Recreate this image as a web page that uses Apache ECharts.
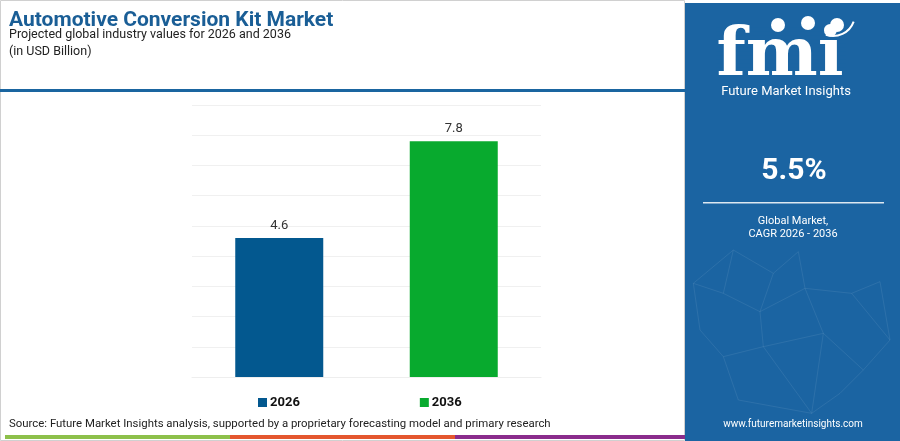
<!DOCTYPE html>
<html>
<head>
<meta charset="utf-8">
<script src="https://cdn.jsdelivr.net/npm/echarts@6/dist/echarts.min.js"></script>
<style>
html,body{margin:0;padding:0;background:#fff;}
#c{width:900px;height:441px;}
</style>
</head>
<body>
<div id="c"></div>
<script>
const categories = ['2026', '2036'];
const seriesNames = ['2026', '2036'];
const values2026 = [4.6, '-'];
const values2036 = ['-', 7.8];
const cagrText = '5.5%';

const chart = echarts.init(document.getElementById('c'), null, {renderer: 'canvas'});

const panelBlue = '#1b64a2';
const netNodes = [[160,750],[355,755],[280,820],[40,850],[130,880],[240,935],[375,865],[515,880],[600,845],[430,1000],[250,1040],[550,1110],[130,1070],[175,1200],[395,1240],[630,1020],[60,990],[480,1180]]
  .map(p => [680 + p[0]/3, p[1]/3]);
const netEdges = [[0,2],[0,4],[1,2],[1,6],[2,5],[3,4],[4,5],[5,6],[6,7],[7,8],[5,10],[10,9],[9,6],[9,11],[10,12],[12,13],[13,14],[14,9],[11,15],[15,8],[3,16],[16,12],[11,17],[17,14],[0,3],[7,15],[10,14]];
const netGraphics = netEdges.map(e => ({
  type: 'line', silent: true,
  shape: {x1: netNodes[e[0]][0], y1: netNodes[e[0]][1], x2: netNodes[e[1]][0], y2: netNodes[e[1]][1]},
  style: {stroke: 'rgba(255,255,255,0.08)', lineWidth: 1}
}));
const stripeGraphics = [];
for (let y = 26; y < 77; y += 4) {
  stripeGraphics.push({type: 'rect', silent: true, shape: {x: 716, y: y, width: 130, height: 1.3}, style: {fill: panelBlue}});
}

chart.setOption({
  animation: false,
  grid: {left: 192, right: 359, top: 105, bottom: 64},
  xAxis: {
    type: 'category', data: categories,
    axisLine: {show: true, lineStyle: {color: '#eeeeee'}},
    axisTick: {show: false}, axisLabel: {show: false}
  },
  yAxis: {
    type: 'value', min: 0, max: 9, interval: 1,
    axisLine: {show: false}, axisTick: {show: false}, axisLabel: {show: false},
    splitLine: {lineStyle: {color: '#f0f0f0', width: 1}}
  },
  legend: {
    data: seriesNames, left: 253, top: 391, itemWidth: 9, itemHeight: 9, itemGap: 120,
    icon: 'rect',
    textStyle: {fontFamily: 'Roboto', fontWeight: 'bold', fontSize: 13, color: '#111', padding: [0,0,0,-2]}
  },
  series: [
    {name: seriesNames[0], type: 'bar', data: values2026, barWidth: 88, barGap: '-100%',
     itemStyle: {color: '#03588f'},
     label: {show: true, position: 'top', distance: 6, fontFamily: 'Roboto', fontSize: 13, color: '#333'}},
    {name: seriesNames[1], type: 'bar', data: values2036, barWidth: 88, barGap: '-100%',
     itemStyle: {color: '#08aa2e'},
     label: {show: true, position: 'top', distance: 6, fontFamily: 'Roboto', fontSize: 13, color: '#333'}}
  ],
  graphic: [
    {type: 'rect', silent: true, z: -10, shape: {x: 0.5, y: 0.5, width: 684, height: 440}, style: {fill: 'none', stroke: '#d0d0d0', lineWidth: 1}},
    {type: 'text', left: 9, top: 10, style: {text: 'Automotive Conversion Kit Market', fontFamily: 'Roboto', fontWeight: 'bold', fontSize: 21, fill: '#1a5e96'}},
    {type: 'text', left: 9, top: 28, style: {text: 'Projected global industry values for 2026 and 2036', fontFamily: 'Roboto', fontSize: 12.5, fill: '#222'}},
    {type: 'text', left: 9, top: 45, style: {text: '(in USD Billion)', fontFamily: 'Roboto', fontSize: 12.5, fill: '#222'}},
    {type: 'rect', silent: true, shape: {x: 0, y: 89, width: 685, height: 3}, style: {fill: '#1a65a0'}},
    {type: 'text', left: 9, top: 419, style: {text: 'Source: Future Market Insights analysis, supported by a proprietary forecasting model and primary research', fontFamily: 'Roboto', fontSize: 11.4, fill: '#222'}},
    {type: 'rect', silent: true, shape: {x: 5, y: 435, width: 225, height: 4}, style: {fill: '#8dc04a'}},
    {type: 'rect', silent: true, shape: {x: 230, y: 435, width: 225, height: 4}, style: {fill: '#e4572e'}},
    {type: 'rect', silent: true, shape: {x: 455, y: 435, width: 230, height: 4}, style: {fill: '#8a2c8c'}},
    {type: 'rect', silent: true, z: 0, shape: {x: 685, y: 3, width: 215, height: 438}, style: {fill: panelBlue}},
    {type: 'group', z: 1, children: netGraphics},
    {type: 'text', z: 2, style: {x: 780, y: 91, text: 'fmi', fontFamily: 'DejaVu Serif', fontWeight: 'bold', fontSize: 68, fill: '#ffffff', textAlign: 'center', textVerticalAlign: 'bottom'}},
    {type: 'group', z: 3, children: stripeGraphics},
    {type: 'circle', z: 4, shape: {cx: 778, cy: 25, r: 7}, style: {fill: '#ffffff'}},
    {type: 'circle', z: 4, shape: {cx: 808, cy: 23, r: 7}, style: {fill: '#ffffff'}},
    {type: 'circle', z: 4, shape: {cx: 837, cy: 25, r: 7}, style: {fill: '#ffffff'}},
    {type: 'arc', z: 4, shape: {cx: 833, cy: 14, r: 22, startAngle: 0.35, endAngle: 1.9}, style: {stroke: '#ffffff', lineWidth: 2, fill: 'none'}},
    {type: 'text', z: 4, style: {x: 786, y: 92, text: 'Future Market Insights', fontFamily: 'Roboto', fontSize: 13, fill: '#ffffff', textAlign: 'center', textVerticalAlign: 'middle'}},
    {type: 'text', z: 4, style: {x: 794, y: 171, text: cagrText, fontFamily: 'Roboto', fontWeight: 'bold', fontSize: 30, fill: '#ffffff', textAlign: 'center', textVerticalAlign: 'middle'}},
    {type: 'rect', z: 4, shape: {x: 703, y: 202, width: 181, height: 1.5}, style: {fill: 'rgba(255,255,255,0.85)'}},
    {type: 'text', z: 4, style: {x: 793, y: 221, text: 'Global Market,', fontFamily: 'Roboto', fontSize: 11, fill: '#ffffff', textAlign: 'center', textVerticalAlign: 'middle'}},
    {type: 'text', z: 4, style: {x: 793, y: 234, text: 'CAGR 2026 - 2036', fontFamily: 'Roboto', fontSize: 11, fill: '#ffffff', textAlign: 'center', textVerticalAlign: 'middle'}},
    {type: 'text', z: 4, style: {x: 793, y: 424, text: 'www.futuremarketinsights.com', fontFamily: 'Roboto', fontSize: 10, fill: '#ffffff', textAlign: 'center', textVerticalAlign: 'middle'}}
  ]
});
</script>
</body>
</html>
